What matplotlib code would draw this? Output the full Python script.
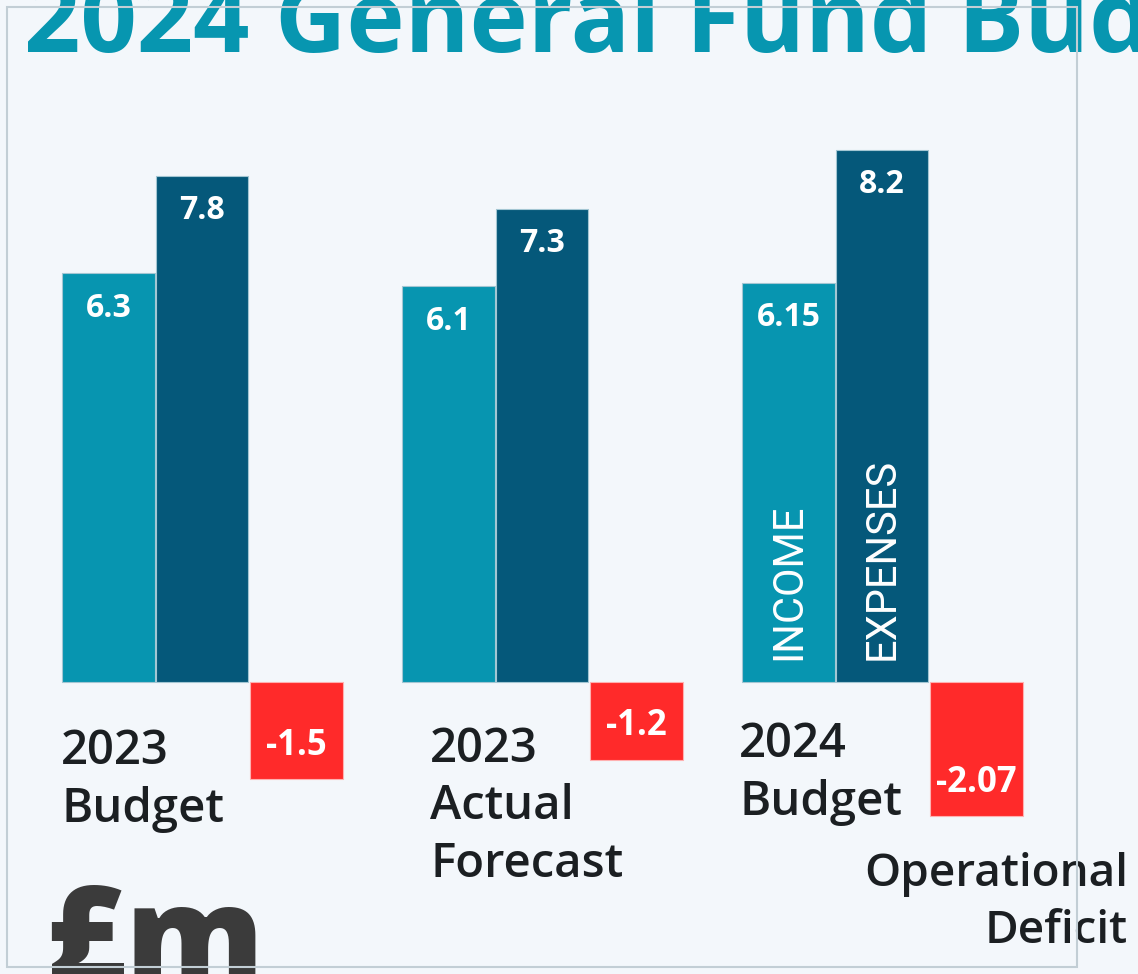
import numpy as np
import matplotlib.pyplot as plt
from matplotlib.patches import Rectangle

groups = ['2023\nBudget', '2023\nActual\nForecast', '2024\nBudget']
income = [6.3, 6.1, 6.15]
expenses = [7.8, 7.3, 8.2]
deficit = [-1.5, -1.2, -2.07]
income_lbl = ['6.3', '6.1', '6.15']
expenses_lbl = ['7.8', '7.3', '8.2']
deficit_lbl = ['-1.5', '-1.2', '-2.07']

W, H = 1138, 974
fig = plt.figure(figsize=(W / 100, H / 100), dpi=100)
fig.patch.set_facecolor('#f3f7fb')
ax = fig.add_axes([0, 0, 1, 1])
ax.set_facecolor('none')
ax.set_xlim(-202 / 340, (W - 202) / 340)
ax.set_ylim(-(H - 682) / 64.85, 682 / 64.85)
ax.axis('off')

font = 'Open Sans'
x = np.arange(len(groups))
bw = 0.272
off = 0.275
edge = dict(edgecolor='#a3c6d3', linewidth=0.8)
b_inc = ax.bar(x - off, income, bw, color='#0795b0', **edge)
b_exp = ax.bar(x, expenses, bw, color='#05587a', **edge)
b_def = ax.bar(x + off + 0.003, deficit, bw, color='#ff2a2a', edgecolor='#ffb0b0', linewidth=0.8)

for bars, labels in [(b_inc, income_lbl), (b_exp, expenses_lbl), (b_def, deficit_lbl)]:
    for b, lbl in zip(bars, labels):
        h = b.get_height()
        dy = -25 if h > 0 else 24
        fs = 23 if h > 0 else 25
        ax.annotate(lbl, (b.get_x() + b.get_width() / 2, h), xytext=(0, dy),
                    textcoords='offset points', ha='center', va='center',
                    color='white', fontsize=fs, fontweight='bold', family=font)

# group labels under the bars (baseline of the last line)
label_y = [-2.16, -3.01, -2.05]
label_dx = [0.0, 0.085, -0.006]
for xi, g, yy, dx in zip(x, groups, label_y, label_dx):
    ax.text(xi - off - bw / 2 - 0.003 + dx, yy, g, ha='left', va='baseline',
            fontsize=34, fontweight='semibold', color='#1b1f22', family=font,
            linespacing=1.3)

# series names on the last group
ax.text(x[-1] - off, 0.34, 'INCOME', rotation=90, ha='center', va='bottom',
        color='white', fontsize=30, fontweight='normal', family='Roboto')
ax.text(x[-1], 0.34, 'EXPENSES', rotation=90, ha='center', va='bottom',
        color='white', fontsize=30, fontweight='normal', family='Roboto')

fig.text(1128 / W, 1 - 943 / H, 'Operational\nDeficit', ha='right', va='baseline',
         multialignment='right', fontsize=33, fontweight='semibold',
         color='#1b1f22', family=font, linespacing=1.35)

fig.text(24 / W, 1 - 52 / H, '2024 General Fund Budget', ha='left', va='baseline',
         fontsize=71, fontweight='bold', color='#0796b0', family=font)

fig.text(44 / W, 1 - 985 / H, '£m', ha='left', va='baseline',
         fontsize=100, fontweight='heavy', color='#3b3b3b', family=font)

fig.add_artist(Rectangle((7 / W, 7 / H), 1070 / W, 960 / H, transform=fig.transFigure,
                         fill=False, edgecolor='#c2ced5', linewidth=1.5, zorder=10))

fig.savefig('out.png', dpi=100, facecolor=fig.get_facecolor())
